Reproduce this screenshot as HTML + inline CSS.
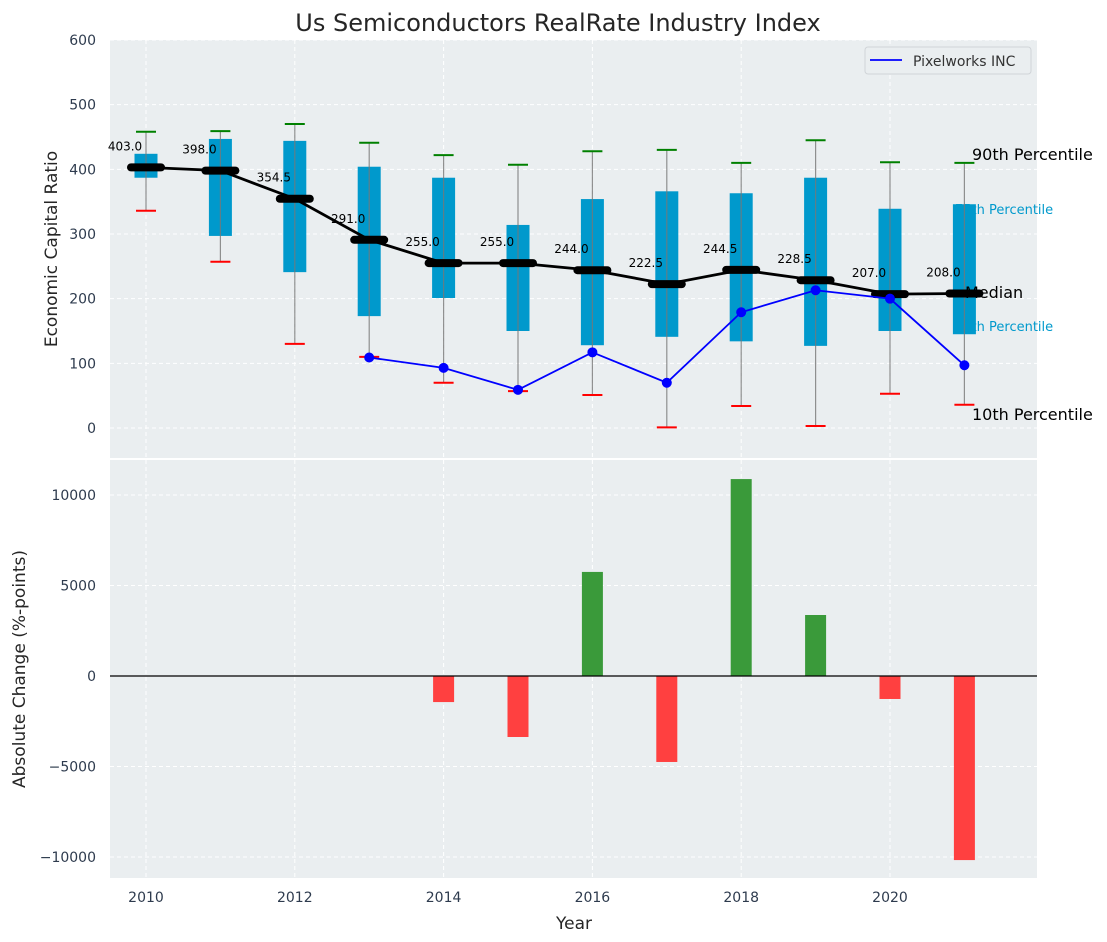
<!DOCTYPE html>
<html><head><meta charset="utf-8"><style>
body{margin:0;background:#fff;}
svg{display:block;font-family:"DejaVu Sans","Liberation Sans",sans-serif;}
</style></head><body>
<svg id="c" width="1107" height="942"></svg>
<script>
const years=[2010,2011,2012,2013,2014,2015,2016,2017,2018,2019,2020,2021];
const p90=[458,459,470,441,422,407,428,430,410,445,411,410];
const p75=[424,447,444,404,387,314,354,366,363,387,339,346];
const median=[403,398,354.5,291,255,255,244,222.5,244.5,228.5,207,208];
const p25=[387,297,241,173,201,150,128,141,134,127,150,145];
const p10=[336,257,130,110,70,57,51,1,34,3,53,36];
const companyYears=[2013,2014,2015,2016,2017,2018,2019,2020,2021];
const company=[109,93,59,117,70,179,213,200,97];
const changeYears=[2014,2015,2016,2017,2018,2019,2020,2021];
const changes=[-1440,-3370,5750,-4750,10880,3370,-1270,-10170];
const topTicks=[0,100,200,300,400,500,600];
const botTicks=[-10000,-5000,0,5000,10000];
const xTicks=[2010,2012,2014,2016,2018,2020];

const svg=document.getElementById('c');
const NS='http://www.w3.org/2000/svg';
function el(t,a,p){const e=document.createElementNS(NS,t);for(const k in a)e.setAttribute(k,a[k]);(p||svg).appendChild(e);return e;}
const X=y=>146+(y-2010)*74.4;
const Yt=v=>428-v*0.6467;
const Yb=v=>676-v*0.0181;
const L=110,R=1037;

let e=el('rect',{x:L,y:40,width:R-L,height:418,fill:'#eaeef0'});

e=el('rect',{x:L,y:460,width:R-L,height:418,fill:'#eaeef0'});


topTicks.forEach(t=>{el('line',{x1:L,x2:R,y1:Yt(t),y2:Yt(t),stroke:'#fff','stroke-dasharray':'4,3','stroke-width':1});
 e=el('text',{x:96,y:Yt(t)+5,'text-anchor':'end','font-size':14,fill:'#2e3b4e'});e.textContent=t;
 });
botTicks.forEach(t=>{el('line',{x1:L,x2:R,y1:Yb(t),y2:Yb(t),stroke:'#fff','stroke-dasharray':'4,3','stroke-width':1});
 e=el('text',{x:96,y:Yb(t)+5,'text-anchor':'end','font-size':14,fill:'#2e3b4e'});e.textContent=(t<0?'\u2212'+(-t):t);
 });
xTicks.forEach(t=>{el('line',{x1:X(t),x2:X(t),y1:40,y2:458,stroke:'#fff','stroke-dasharray':'4,3'});
 el('line',{x1:X(t),x2:X(t),y1:460,y2:878,stroke:'#fff','stroke-dasharray':'4,3'});
 e=el('text',{x:X(t),y:902,'text-anchor':'middle','font-size':14,fill:'#2e3b4e'});e.textContent=t;
 });

// cyan annotations (behind boxes)
[['75th Percentile',955,214],['25th Percentile',955,331]].forEach(a=>{e=el('text',{x:a[1],y:a[2],'font-size':13,fill:'#0099cc'});e.textContent=a[0];
 });

years.forEach((y,i)=>{const x=X(y);
 e=el('rect',{x:x-11.5,y:Yt(p75[i]),width:23,height:Yt(p25[i])-Yt(p75[i]),fill:'#0099cc'});
 
 el('line',{x1:x,x2:x,y1:Yt(p90[i]),y2:Yt(p10[i]),stroke:'#777','stroke-width':1.2,'stroke-opacity':0.8});
 e=el('line',{x1:x-10,x2:x+10,y1:Yt(p90[i]),y2:Yt(p90[i]),stroke:'#008000','stroke-width':2});
 
 e=el('line',{x1:x-10,x2:x+10,y1:Yt(p10[i]),y2:Yt(p10[i]),stroke:'#ff0000','stroke-width':2});
 
});
e=el('polyline',{points:years.map((y,i)=>X(y)+','+Yt(median[i])).join(' '),fill:'none',stroke:'#000','stroke-width':2.8});

years.forEach((y,i)=>{const x=X(y);
 e=el('line',{x1:x-15,x2:x+15,y1:Yt(median[i]),y2:Yt(median[i]),stroke:'#000','stroke-width':8,'stroke-linecap':'round'});
 
});
e=el('polyline',{points:companyYears.map((y,i)=>X(y)+','+Yt(company[i])).join(' '),fill:'none',stroke:'#0000ff','stroke-width':1.8});

companyYears.forEach((y,i)=>{e=el('circle',{cx:X(y),cy:Yt(company[i]),r:5,fill:'#0000ff'});
 });
years.forEach((y,i)=>{
 e=el('text',{x:X(y)-21,y:Yt(median[i])-17,'text-anchor':'middle','font-size':12,fill:'#000'});e.textContent=median[i].toFixed(1);
 
});

[['90th Percentile',972,160],['Median',965,298],['10th Percentile',972,420]].forEach(a=>{e=el('text',{x:a[1],y:a[2],'font-size':16,fill:'#000'});e.textContent=a[0];
 });

const lg=el('g',{});
el('rect',{x:865,y:47,width:166,height:27,rx:3,fill:'#eaeef0',stroke:'#d0d4d8'},lg);
el('line',{x1:870,x2:902,y1:60,y2:60,stroke:'#0000ff','stroke-width':1.8},lg);
e=el('text',{x:913,y:66,'font-size':14,fill:'#333'},lg);e.textContent='Pixelworks INC';

changeYears.forEach((y,i)=>{const v=changes[i];const y0=Yb(Math.max(v,0)),y1=Yb(Math.min(v,0));
 e=el('rect',{x:X(y)-10.5,y:y0,width:21,height:y1-y0,fill:v>=0?'#3a9a3a':'#ff4040'});
 });
el('line',{x1:L,x2:R,y1:Yb(0),y2:Yb(0),stroke:'#000','stroke-width':1.2});

e=el('text',{x:558,y:31,'text-anchor':'middle','font-size':24,fill:'#262626'});e.textContent='Us Semiconductors RealRate Industry Index';

e=el('text',{x:0,y:0,'text-anchor':'middle','font-size':17,fill:'#262626',transform:'translate(57,249) rotate(-90)'});e.textContent='Economic Capital Ratio';

e=el('text',{x:0,y:0,'text-anchor':'middle','font-size':17,fill:'#262626',transform:'translate(25,669) rotate(-90)'});e.textContent='Absolute Change (%-points)';

e=el('text',{x:574,y:929,'text-anchor':'middle','font-size':17,fill:'#262626'});e.textContent='Year';

</script>
</body></html>
